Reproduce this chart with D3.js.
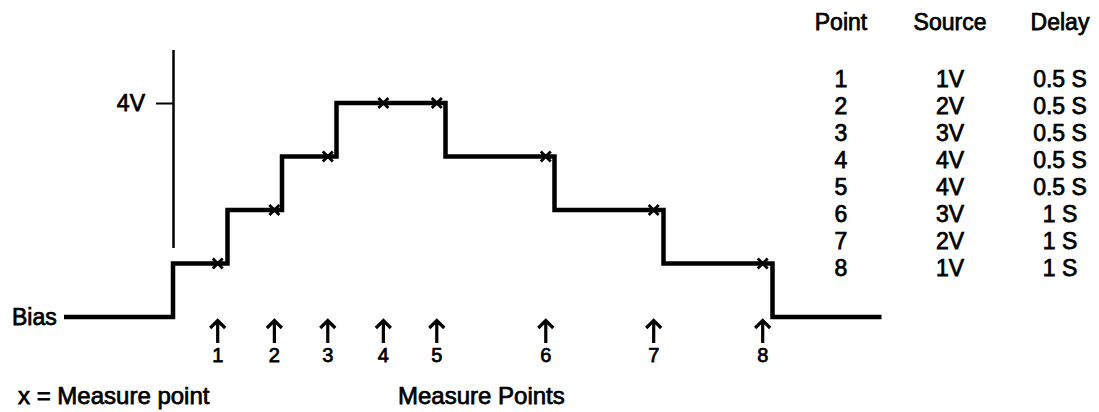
<!DOCTYPE html>
<html>
<head>
  <meta charset="utf-8">
  <title>Measure Points</title>
  <style>
    body { margin: 0; background: #fff; }
    svg text { font-family: "Liberation Sans", Arial, sans-serif; fill: #000; stroke: #000; stroke-width: 0.75px; }
  </style>
</head>
<body>

  <script src="https://d3js.org/d3.v7.min.js"></script>
  <script type="text/javascript">
    // table / sweep data
    var points = [1, 2, 3, 4, 5, 6, 7, 8];
    var sourceV = [1, 2, 3, 4, 4, 3, 2, 1];
    var delayS = [0.5, 0.5, 0.5, 0.5, 0.5, 1, 1, 1];
    // where the x marks sit (seconds from first step)
    var measureT = [0.41, 0.93, 1.42, 1.93, 2.42, 3.42, 4.41, 5.41];
    var biasLead = 1, biasTail = 1;
    var axisTicks = [4];
    var headers = ["Point", "Source", "Delay"];

    var width = 1099, height = 412;

    var svg = d3.select("body")
      .append("svg")
      .attr("width", width)
      .attr("height", height);

    // build the staircase: bias, then each source level for its delay, back to bias
    var steps = [{t: -biasLead, v: 0}];
    var t = 0;
    sourceV.forEach(function(v, i) {
      steps.push({t: t, v: v});
      t += delayS[i];
    });
    steps.push({t: t, v: 0});
    steps.push({t: t + biasTail, v: 0});

    var x = d3.scaleLinear()
      .domain([-1, 6.5])
      .range([64, 881.5]);

    var y = d3.scaleLinear()
      .domain([0, 4])
      .range([317, 103]);

    // vertical reference axis
    var yAxisScale = d3.scaleLinear()
      .domain([1.3, 5])
      .range([y(1.3), y(5)]);

    var axis = svg.append("g")
      .attr("transform", "translate(" + x(0) + ",0)")
      .call(d3.axisLeft(yAxisScale)
        .tickValues(axisTicks)
        .tickSize(17)
        .tickSizeOuter(0)
        .tickPadding(11)
        .tickFormat(function(d){ return d + "V"; }));
    axis.select(".domain").attr("stroke", "#000").attr("stroke-width", 2.5);
    axis.selectAll(".tick line").attr("stroke", "#000").attr("stroke-width", 2);
    axis.selectAll(".tick text")
      .attr("font-size", 23)
      .attr("font-family", null);

    var line = d3.line()
      .x(function(d){ return x(d.t); })
      .y(function(d){ return y(d.v); })
      .curve(d3.curveStepAfter);

    svg.append("path")
      .datum(steps)
      .attr("d", line)
      .attr("fill", "none")
      .attr("stroke", "#000")
      .attr("stroke-width", 4.5)
      .attr("stroke-linejoin", "miter");

    svg.append("text")
      .attr("x", 12)
      .attr("y", y(0))
      .attr("dy", "0.35em")
      .attr("font-size", 23)
      .text("Bias");

    // x marks
    svg.selectAll(".mark")
      .data(points)
      .enter()
      .append("path")
      .attr("class", "mark")
      .attr("transform", function(d, i){ return "translate(" + x(measureT[i]) + "," + y(sourceV[i]) + ")"; })
      .attr("d", "M-5,-5L5,5M-5,5L5,-5")
      .attr("stroke", "#000")
      .attr("stroke-width", 2.8)
      .attr("fill", "none");

    // arrows under the measure points
    var arrows = svg.selectAll(".arrow")
      .data(points)
      .enter()
      .append("g")
      .attr("class", "arrow")
      .attr("transform", function(d, i){ return "translate(" + x(measureT[i]) + ",0)"; });

    arrows.append("path")
      .attr("d", "M0,320L0,343M-7.5,328L0,320.5L7.5,328")
      .attr("stroke", "#000")
      .attr("stroke-width", 3.2)
      .attr("fill", "none");

    arrows.append("text")
      .attr("y", 362)
      .attr("text-anchor", "middle")
      .attr("font-size", 20)
      .text(function(d){ return d; });

    svg.append("text")
      .attr("x", 18)
      .attr("y", 404)
      .attr("font-size", 24)
      .text("x = Measure point");

    svg.append("text")
      .attr("x", 398)
      .attr("y", 404)
      .attr("font-size", 24)
      .text("Measure Points");

    // table on the right
    var colX = [841, 950, 1060];

    svg.selectAll(".hdr")
      .data(headers)
      .enter()
      .append("text")
      .attr("class", "hdr")
      .attr("x", function(d, i){ return colX[i]; })
      .attr("y", 30)
      .attr("text-anchor", "middle")
      .attr("font-size", 23)
      .text(function(d){ return d; });

    var rows = svg.selectAll(".row")
      .data(points)
      .enter()
      .append("g")
      .attr("class", "row")
      .attr("transform", function(d, i){ return "translate(0," + (87 + i * 27) + ")"; });

    rows.append("text")
      .attr("x", colX[0])
      .attr("text-anchor", "middle")
      .attr("font-size", 23)
      .text(function(d){ return d; });

    rows.append("text")
      .attr("x", colX[1])
      .attr("text-anchor", "middle")
      .attr("font-size", 23)
      .text(function(d, i){ return sourceV[i] + "V"; });

    rows.append("text")
      .attr("x", colX[2])
      .attr("text-anchor", "middle")
      .attr("font-size", 23)
      .text(function(d, i){ return delayS[i] + " S"; });
  </script>
</body>
</html>
